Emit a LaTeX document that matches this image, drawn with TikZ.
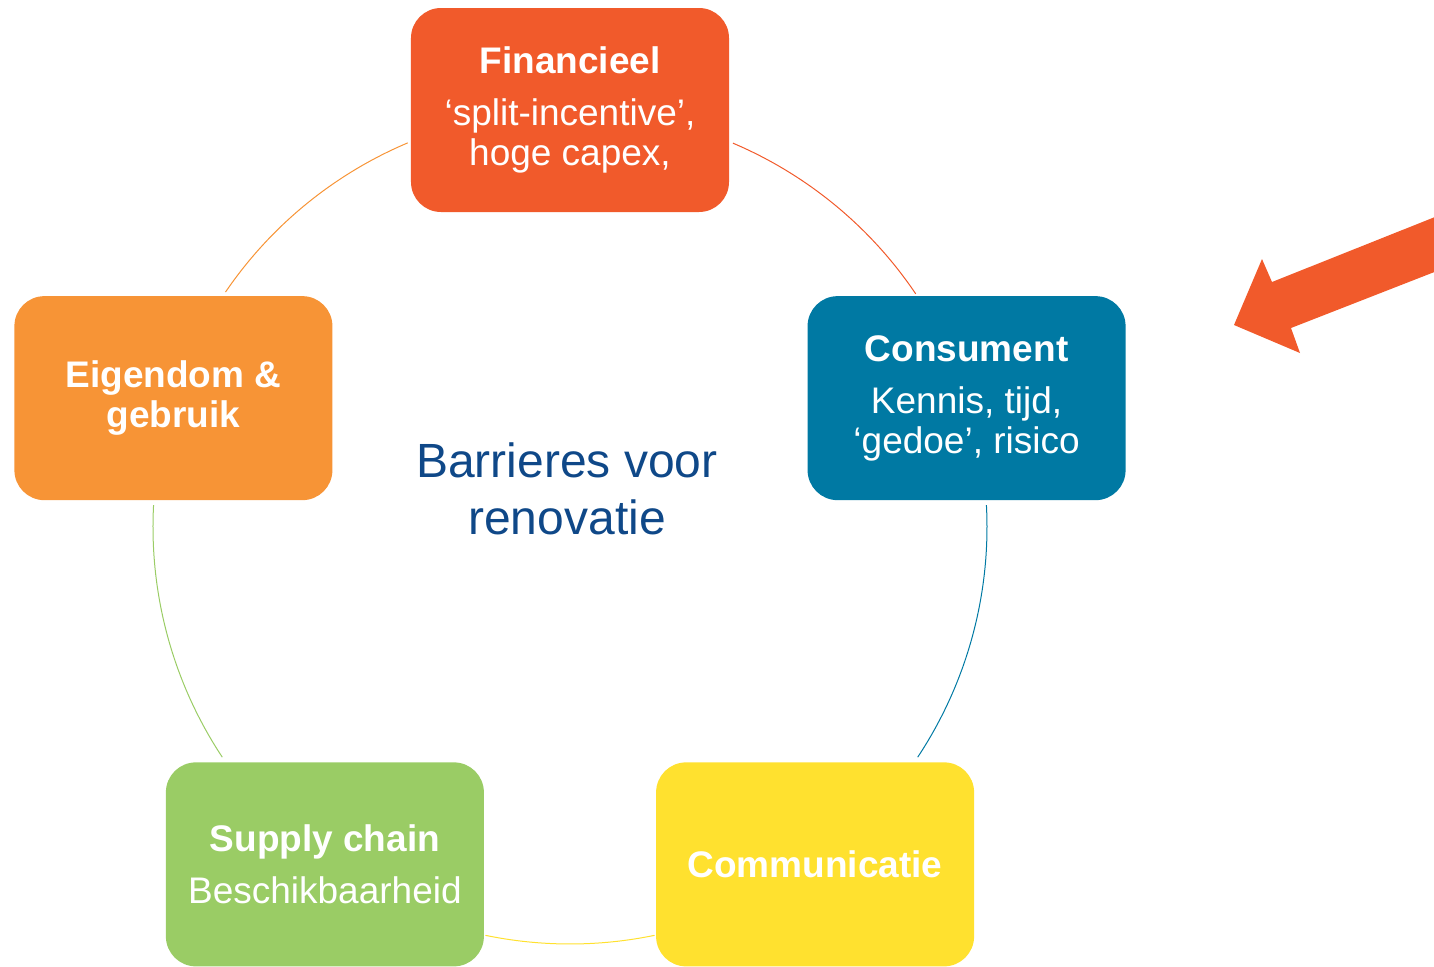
\documentclass[tikz,border=0pt]{standalone}
\usepackage{fontspec}
\setmainfont{Liberation Sans}
\usepackage{xcolor}
\usepackage{tikz}
\usetikzlibrary{positioning}

\definecolor{fincol}{RGB}{241,90,43}
\definecolor{concol}{RGB}{0,121,163}
\definecolor{eigcol}{RGB}{247,148,54}
\definecolor{supcol}{RGB}{154,204,101}
\definecolor{comcol}{RGB}{255,225,47}
\definecolor{titlecol}{RGB}{15,72,136}

\begin{document}
\begin{tikzpicture}[x=0.5pt, y=0.5pt,
    box/.style={rectangle, rounded corners=15pt, minimum width=159pt, minimum height=102pt,
      text=white, align=center, font=\fontsize{18.5}{20}\selectfont}]
  \useasboundingbox (-570,-439) rectangle (864,527);
  \clip (-570,-439) rectangle (864,527);
  \coordinate (o) at (0,0); % centre of the ring
  \node (fin) [box, fill=fincol] at (90:417) {\textbf{Financieel}\\[6pt]‘split-incentive’,\\hoge capex,};
  \node (con) [box, fill=concol] at (18:417) {\textbf{Consument}\\[6pt]Kennis, tijd,\\‘gedoe’, risico};
  \node (com) [box, fill=comcol] at (-54:417) {\textbf{Communicatie}};
  \node (sup) [box, fill=supcol] at (-126:417) {\textbf{Supply chain}\\[6pt]Beschikbaarheid};
  \node (eig) [box, fill=eigcol] at (162:417) {\textbf{Eigendom \&}\\\textbf{gebruik}};
  \node (title) [text=titlecol, align=center, font=\fontsize{24}{28.5}\selectfont] at (-3,38) {Barrieres voor\\renovatie};
  \foreach \a/\b/\c in {67/34/fincol, 3/-33.5/concol, -78.3/-101.7/comcol, -146.5/-183/supcol, 145.7/112.9/eigcol}
    \draw[\c, line width=0.5pt] ([shift={(\a:417)}]o) arc[start angle=\a, end angle=\b, radius=417];
  \fill[fincol] (664,202) -- (692,268) -- (702,245) -- (890,320) -- (890,265) -- (721,199) -- (730,174) -- cycle;
\end{tikzpicture}
\end{document}
